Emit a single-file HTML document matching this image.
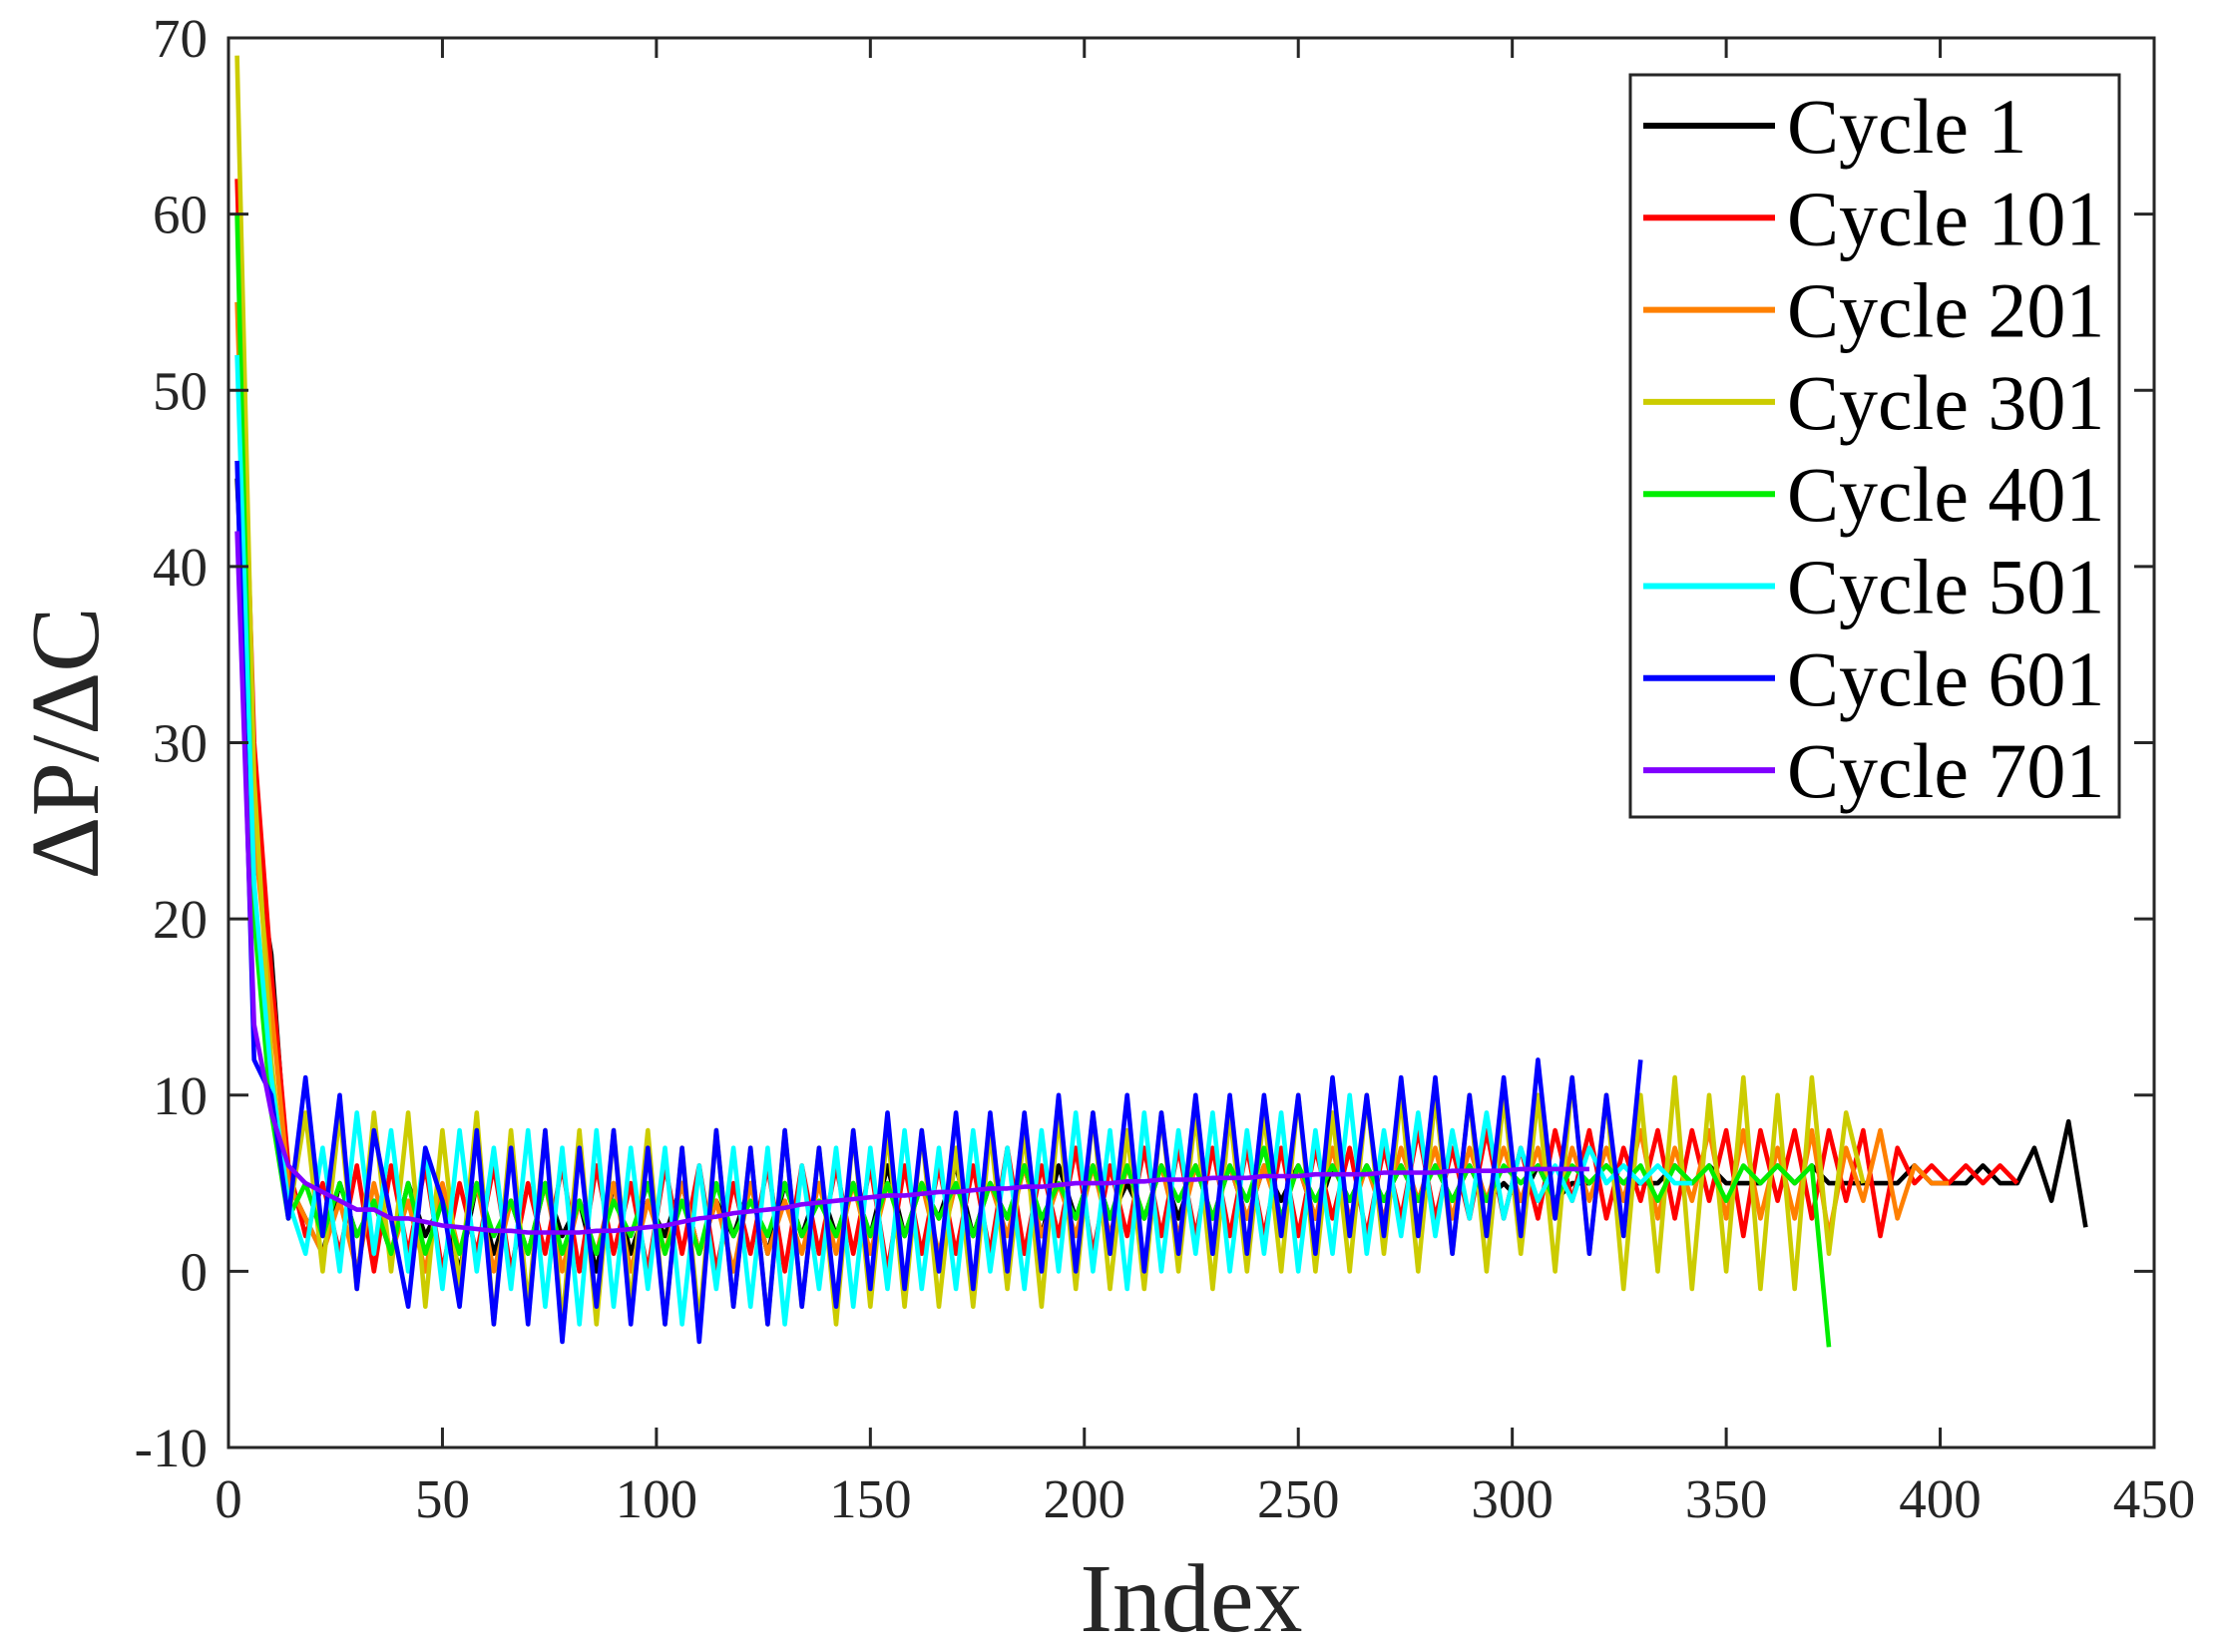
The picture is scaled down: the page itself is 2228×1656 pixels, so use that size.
<!DOCTYPE html>
<html><head><meta charset="utf-8"><style>
html,body{margin:0;padding:0;background:#fff;}
svg{display:block;}
text{font-family:"Liberation Serif",serif;fill:#262626;}
</style></head><body>
<svg id="chart" width="2228" height="1656" viewBox="0 0 2228 1656" xmlns="http://www.w3.org/2000/svg">
<rect width="2228" height="1656" fill="#fff"/>
<g id="series"></g>
<g id="axes"></g>
<text x="1194" y="1635" text-anchor="middle" font-size="98">Index</text>
<text transform="translate(98,745) rotate(-90)" text-anchor="middle" font-size="98">ΔP/ΔC</text>
<g id="legend"></g>
</svg>
<script>
const xTicks=[0,50,100,150,200,250,300,350,400,450];
const yTicks=[-10,0,10,20,30,40,50,60,70];
const seriesNames=["Cycle 1","Cycle 101","Cycle 201","Cycle 301","Cycle 401","Cycle 501","Cycle 601","Cycle 701"];
const seriesColors=["#000000","#ff0000","#ff8000","#cccc00","#00ee00","#00ffff","#0000ff","#8000ff"];
const startIndex=2, indexStep=4;
const cycle1=[45,24,18,5,3,1,5,2,4,1,5,2,4,0,5,1,4,1,5,2,4,0,5,1,4,2,5,1,4,2,5,1,5,2,5,2,5,2,6,2,5,3,6,2,5,3,6,2,6,3,6,3,5,3,6,3,6,3,6,3,6,4,6,3,6,4,6,4,6,4,6,4,6,4,5,4,6,4,5,5,6,5,5,5,6,5,6,5,5,5,6,5,6,5,5,5,5,5,6,5,5,5,6,5,5,7,4,8.5,2.5];
const cycle101=[62,30,17,6,2,5,1,6,0,6,1,6,0,5,1,6,0,5,1,6,0,6,1,5,0,6,1,6,0,5,1,6,0,6,1,6,1,6,0,6,1,6,1,6,1,7,1,6,2,7,1,6,2,7,2,7,2,7,2,7,2,7,2,7,3,7,2,7,3,8,3,7,3,8,3,7,3,8,4,8,3,7,4,8,3,8,4,8,2,8,4,8,3,8,4,8,2,7,5,6,5,6,5,6,5];
const cycle201=[55,25,15,5,3,1,4,0,5,1,4,0,5,1,5,0,4,1,5,0,4,1,5,0,4,1,5,1,4,0,5,1,4,1,5,1,5,1,5,2,5,1,5,2,5,2,6,2,5,2,6,2,6,3,6,2,6,3,6,3,6,3,6,3,7,3,6,3,7,4,7,3,7,4,7,4,7,3,7,4,7,4,8,3,7,4,8,3,8,3,7,3,8,2,7,4,8,3,6,5,5];
const cycle301=[69,28,12,3,9,0,9,-1,9,0,9,-2,8,-1,9,-3,8,-2,8,-3,8,-3,8,-2,8,-3,7,-3,8,-2,7,-3,8,-2,7,-3,8,-2,8,-2,8,-2,7,-2,8,-1,8,-2,9,-1,9,-1,8,-1,9,0,9,-1,9,0,9,0,10,0,9,0,10,1,10,0,10,1,10,0,10,1,10,0,11,1,10,-1,10,0,11,-1,10,0,11,-1,10,-1,11,1,9,5];
const cycle401=[60,20,9,3,5,2,5,2,4,1,5,1,4,1,5,2,4,1,5,1,4,1,4,2,5,1,4,1,5,2,4,2,5,2,4,2,5,2,5,2,5,3,5,2,5,3,6,3,5,3,6,3,6,3,6,4,6,3,6,4,7,3,6,4,6,4,6,4,6,4,6,4,6,4,6,5,6,4,6,5,6,5,6,4,6,5,6,4,6,5,6,5,6,-4.3];
const cycle501=[52,22,11,4,1,7,0,9,1,8,0,7,-1,8,0,7,-1,8,-2,7,-3,8,-2,7,-1,7,-3,6,-1,7,-2,7,-3,6,-1,7,-2,7,-1,8,-1,7,-1,8,0,7,-1,8,0,9,0,8,-1,9,0,8,1,9,0,8,1,9,0,8,1,10,1,8,2,9,2,8,3,9,3,7,4,6,4,7,5,6,5,6,5,5];
const cycle601=[46,12,10,3,11,2,10,-1,8,3,-2,7,4,-2,8,-3,7,-3,8,-4,7,-2,8,-3,7,-3,7,-4,8,-2,7,-3,8,-2,7,-2,8,-1,9,-1,8,0,9,-1,9,0,9,0,10,0,9,1,10,0,9,1,10,1,10,1,10,2,10,1,11,2,10,2,11,2,11,1,10,2,11,2,12,3,11,1,10,2,12];
const cycle701=[42,14,9,6,5,4.5,4,3.5,3.5,3,3,2.8,2.6,2.5,2.4,2.3,2.3,2.2,2.2,2.2,2.2,2.3,2.3,2.4,2.5,2.6,2.8,3,3.1,3.3,3.4,3.5,3.6,3.8,3.9,4,4.1,4.2,4.3,4.3,4.4,4.5,4.5,4.6,4.7,4.7,4.8,4.8,4.9,5,5,5,5.1,5.1,5.2,5.2,5.2,5.3,5.3,5.3,5.4,5.4,5.4,5.5,5.5,5.5,5.5,5.6,5.6,5.6,5.6,5.7,5.7,5.7,5.7,5.8,5.8,5.8,5.8,5.8];
const allSeries=[cycle1,cycle101,cycle201,cycle301,cycle401,cycle501,cycle601,cycle701];

const L=229,R=2159,T=38,B=1451;
const xMin=0,xMax=450,yMin=-10,yMax=70;
const sx=v=>L+(v-xMin)/(xMax-xMin)*(R-L);
const sy=v=>B-(v-yMin)/(yMax-yMin)*(B-T);
const NS="http://www.w3.org/2000/svg";
function mk(tag,attrs,parent){const e=document.createElementNS(NS,tag);for(const k in attrs)e.setAttribute(k,attrs[k]);parent.appendChild(e);return e;}

const sg=document.getElementById('series');
allSeries.forEach((arr,si)=>{
  const d=arr.map((v,i)=>(i?'L':'M')+sx(startIndex+i*indexStep).toFixed(1)+','+sy(v).toFixed(1)).join('');
  const p=mk('path',{d:d,fill:'none',stroke:seriesColors[si],'stroke-width':4.6,'stroke-linejoin':'round'},sg);
  
  
});

const ag=document.getElementById('axes');
const box=mk('rect',{x:L,y:T,width:R-L,height:B-T,fill:'none',stroke:'#262626','stroke-width':3},ag);


xTicks.forEach(t=>{
  const x=sx(t);
  mk('line',{x1:x,y1:B,x2:x,y2:B-20,stroke:'#262626','stroke-width':3},ag);
  mk('line',{x1:x,y1:T,x2:x,y2:T+20,stroke:'#262626','stroke-width':3},ag);
  const tx=mk('text',{x:x,y:1521,'text-anchor':'middle','font-size':55},ag);
  tx.textContent=t;
  
  
});
yTicks.forEach(t=>{
  const y=sy(t);
  mk('line',{x1:L,y1:y,x2:L+20,y2:y,stroke:'#262626','stroke-width':3},ag);
  mk('line',{x1:R,y1:y,x2:R-20,y2:y,stroke:'#262626','stroke-width':3},ag);
  const ty=mk('text',{x:208,y:y+19,'text-anchor':'end','font-size':55},ag);
  ty.textContent=t;
  
  
});

const lg=document.getElementById('legend');
mk('rect',{x:1634,y:75,width:490,height:744,fill:'#fff',stroke:'#262626','stroke-width':3},lg);
seriesNames.forEach((n,i)=>{
  const cy=126+i*92.3;
  const g=mk('g',{},lg);
  
  
  mk('line',{x1:1647,y1:cy,x2:1779,y2:cy,stroke:seriesColors[i],'stroke-width':6},g);
  const t=mk('text',{x:1791,y:cy+27,'font-size':78,style:'fill:#000'},g);
  t.textContent=n;
});
</script>
</body></html>
